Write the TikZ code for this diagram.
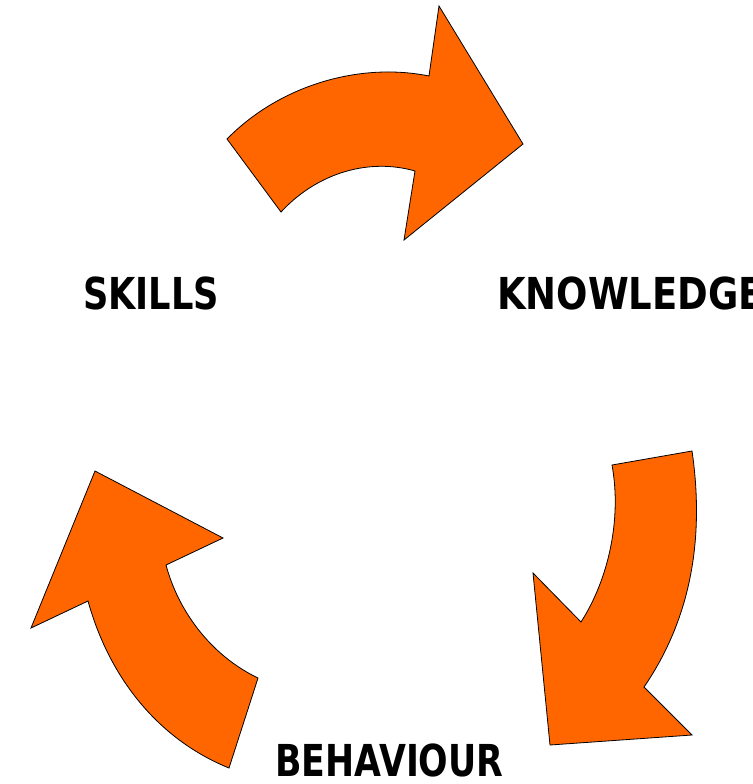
\documentclass[tikz,border=0pt]{standalone}
\usepackage{fontspec}
\setmainfont{DejaVu Sans}
\definecolor{cycleorange}{RGB}{255,102,0}
\tikzset{
    cyclearrow/.style={fill=cycleorange, draw=black, line width=0.8pt, line join=miter},
    cyclelabel/.style={anchor=base west, inner sep=0pt, font=\fontsize{44}{44}\selectfont\bfseries}
}
\begin{document}
\begin{tikzpicture}[x=1pt,y=-1pt]
    \useasboundingbox (0,0) rectangle (752,784);
    % skills -> knowledge
    \draw[cyclearrow] (227,139) .. controls (280,85) and (360,62) .. (429,76)
        -- (439,6) -- (523,144) -- (404,240) -- (415,171)
        .. controls (370,158) and (318,172) .. (281,212) -- cycle;
    % knowledge -> behaviour
    \draw[cyclearrow] (612,465) -- (692,451)
        .. controls (705,540) and (690,620) .. (644,687)
        -- (692,735) -- (550,745) -- (533,573) -- (581,622)
        .. controls (608,580) and (622,520) .. (612,465) -- cycle;
    % behaviour -> skills
    \draw[cyclearrow] (258,678) -- (229,768)
        .. controls (160,740) and (110,680) .. (88,601)
        -- (31,628) -- (95,471) -- (223,538) -- (166,565)
        .. controls (178,610) and (210,655) .. (258,678) -- cycle;
    \node[cyclelabel] (skills) at (83,309) {\scalebox{0.8}[1]{SKILLS}};
    \node[cyclelabel] (knowledge) at (497,309) {\scalebox{0.84}[1]{KNOWLEDGE}};
    \node[cyclelabel] (behaviour) at (275,776) {\scalebox{0.79}[1]{BEHAVIOUR}};
\end{tikzpicture}
\end{document}
